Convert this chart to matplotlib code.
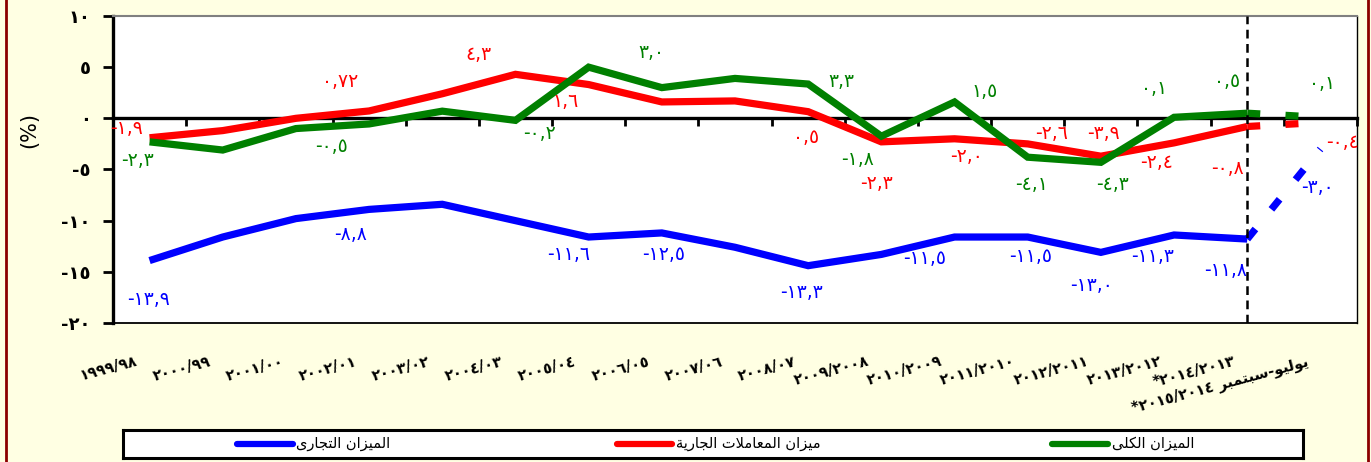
import matplotlib
matplotlib.use("Agg")
import matplotlib.pyplot as plt
from matplotlib import transforms
from matplotlib.lines import Line2D

# --- data (values in %) ---
years = ["١٩٩٩/٩٨", "٢٠٠٠/٩٩", "٢٠٠١/٠٠", "٢٠٠٢/٠١", "٢٠٠٣/٠٢", "٢٠٠٤/٠٣",
         "٢٠٠٥/٠٤", "٢٠٠٦/٠٥", "٢٠٠٧/٠٦", "٢٠٠٨/٠٧", "٢٠٠٩/٢٠٠٨", "٢٠١٠/٢٠٠٩",
         "٢٠١١/٢٠١٠", "٢٠١٢/٢٠١١", "٢٠١٣/٢٠١٢", "*٢٠١٤/٢٠١٣", "يوليو-سبتمبر *٢٠١٥/٢٠١٤"]

trade = [-13.9, -11.6, -9.8, -8.9, -8.4, -10.0, -11.6, -11.2, -12.6, -14.4,
         -13.3, -11.6, -11.6, -13.1, -11.4, -11.8, -3.0]
current = [-1.9, -1.2, 0.0, 0.72, 2.4, 4.3, 3.3, 1.6, 1.7, 0.65,
           -2.3, -2.0, -2.5, -3.7, -2.4, -0.8, -0.4]
overall = [-2.3, -3.1, -1.0, -0.55, 0.7, -0.2, 5.0, 3.0, 3.9, 3.35,
           -1.75, 1.6, -3.8, -4.3, 0.1, 0.5, 0.1]

# data labels as printed on the chart
trade_lbl = [-13.9, -8.8, -11.6, -12.5, -13.3, -11.5, -11.5, -13.0, -11.3, -11.8, -3.0]
current_lbl = [-1.9, 0.72, 4.3, 1.6, 0.5, -2.3, -2.0, -2.6, -3.9, -2.4, -0.8, -0.4]
overall_lbl = [-2.3, -0.5, -0.2, 3.0, 3.3, -1.8, 1.5, -4.1, -4.3, 0.1, 0.5, 0.1]

names = ["الميزان التجارى", "ميزان المعاملات الجارية", "الميزان الكلى"]
colors = ["#0000FF", "#FF0000", "#008000"]

# label placement (x in category units, y in %)
trade_lbl_pos = [(-0.02, -17.7), (2.75, -11.4), (5.72, -13.3), (7.03, -13.3), (8.91, -17.0),
                 (10.59, -13.7), (12.04, -13.5), (12.87, -16.3), (13.7, -13.5), (14.7, -14.9),
                 (15.96, -6.75)]
current_lbl_pos = [(-0.31, -0.95), (2.6, 3.57), (4.5, 6.2), (5.69, 1.6), (8.97, -1.84),
                   (9.94, -6.36), (11.17, -3.7), (12.33, -1.5), (13.04, -1.5), (13.76, -4.35),
                   (14.73, -4.9), (16.3, -2.4)]
overall_lbl_pos = [(-0.17, -4.1), (2.48, -2.8), (5.33, -1.5), (6.86, 6.4), (9.46, 3.56),
                   (9.68, -4.0), (11.41, 2.6), (12.05, -6.45), (13.16, -6.45), (13.73, 2.9),
                   (14.73, 3.55), (16.02, 3.37)]

AR_DIGITS = str.maketrans("0123456789.", "٠١٢٣٤٥٦٧٨٩,")

# minimal arabic shaping (matplotlib does no shaping / bidi)
FORMS = {
    "ا": (0xFE8D, 0xFE8E, None, None), "ب": (0xFE8F, 0xFE90, 0xFE91, 0xFE92),
    "ت": (0xFE95, 0xFE96, 0xFE97, 0xFE98), "ة": (0xFE93, 0xFE94, None, None),
    "ج": (0xFE9D, 0xFE9E, 0xFE9F, 0xFEA0), "ر": (0xFEAD, 0xFEAE, None, None),
    "ز": (0xFEAF, 0xFEB0, None, None), "س": (0xFEB1, 0xFEB2, 0xFEB3, 0xFEB4),
    "ع": (0xFEC9, 0xFECA, 0xFECB, 0xFECC), "ك": (0xFED9, 0xFEDA, 0xFEDB, 0xFEDC),
    "ل": (0xFEDD, 0xFEDE, 0xFEDF, 0xFEE0), "م": (0xFEE1, 0xFEE2, 0xFEE3, 0xFEE4),
    "ن": (0xFEE5, 0xFEE6, 0xFEE7, 0xFEE8), "و": (0xFEED, 0xFEEE, None, None),
    "ى": (0xFEEF, 0xFEF0, 0xFBE8, 0xFBE9), "ي": (0xFEF1, 0xFEF2, 0xFEF3, 0xFEF4),
}


def shape(text):
    out = []
    i = 0
    while i < len(text):
        c = text[i]
        prev = text[i - 1] if i > 0 else None
        nxt = text[i + 1] if i + 1 < len(text) else None
        joins_prev = prev in FORMS and FORMS[prev][2] is not None
        if c not in FORMS:
            out.append(c)
            i += 1
            continue
        if c == "ل" and nxt == "ا":
            out.append(chr(0xFEFC if joins_prev else 0xFEFB))
            i += 2
            continue
        joins_next = nxt in FORMS and FORMS[c][2] is not None
        iso, fin, ini, med = FORMS[c]
        if joins_prev and joins_next:
            out.append(chr(med))
        elif joins_prev:
            out.append(chr(fin))
        elif joins_next:
            out.append(chr(ini))
        else:
            out.append(chr(iso))
        i += 1
    return "".join(out)[::-1]


def ar_label(text):
    # words with letters get shaped; word order flipped for right-to-left
    words = text.split(" ")
    if len(words) == 1 and not any(ch in FORMS for ch in text):
        return text
    return " ".join(shape(w) if any(ch in FORMS for ch in w) else w for w in words[::-1])


def ar_num(v):
    s = f"{abs(v):.2f}"
    if s.endswith("0"):
        s = s[:-1]
    return ("-" if v < 0 else "") + s.translate(AR_DIGITS)


plt.rcParams["font.family"] = ["DejaVu Sans"]
bg = "#FFFFE3"
fig = plt.figure(figsize=(13.71, 4.62), dpi=100, facecolor=bg)
ax = fig.add_axes([0.0824, 0.3009, 0.9074, 0.6645])
ax.set_facecolor("white")

x = list(range(len(years)))
n_solid = len(years) - 1
for vals, col in zip([trade, current, overall], colors):
    ax.plot(x[:n_solid], vals[:n_solid], color=col, lw=5.2,
            solid_capstyle="butt", solid_joinstyle="miter", zorder=3)
    ax.plot(x[n_solid - 1:], vals[n_solid - 1:], color=col, lw=5.2,
            linestyle=(0, (1.8, 3.5)), dash_capstyle="butt", zorder=3)

for lbls, pos, col in [(trade_lbl, trade_lbl_pos, colors[0]),
                       (current_lbl, current_lbl_pos, colors[1]),
                       (overall_lbl, overall_lbl_pos, colors[2])]:
    for v, (px, py) in zip(lbls, pos):
        ax.text(px, py, ar_num(v), color=col, fontsize=13.5, ha="center", va="center",
                zorder=5, clip_on=False)

# separator between annual data and the latest quarter
ax.axvline(n_solid - 1, color="black", lw=1.8, linestyle=(0, (3.5, 2.2)), zorder=6)

ax.set_xlim(-0.5, len(years) - 0.5)
ax.set_ylim(-20, 10)
yt = [10, 5, 0, -5, -10, -15, -20]
ax.set_yticks(yt)
ax.set_yticklabels([ar_num(v).replace(",٠", "") if v else "٠" for v in yt],
                   fontsize=13, fontweight="bold")
ax.tick_params(axis="y", direction="out", length=7, width=2, pad=9)

# category axis sits on the zero line, ticks between categories
ax.spines["bottom"].set_position(("data", 0))
ax.spines["bottom"].set_linewidth(2.4)
ax.set_xticks([i - 0.5 for i in range(len(years) + 1)])
ax.tick_params(axis="x", direction="out", length=6, width=2, labelbottom=False)
ax.spines["left"].set_linewidth(2.4)
ax.spines["top"].set_color("#808080")
ax.spines["top"].set_linewidth(1.5)
ax.spines["right"].set_linewidth(1.0)
ax.plot([0, 1], [0, 0], transform=ax.transAxes, color="black", lw=1.3, clip_on=False)

trans = transforms.blended_transform_factory(ax.transData, ax.transAxes)
for i, lab in enumerate(years):
    ax.text(i - 0.2, -0.1, ar_label(lab), transform=trans, rotation=15,
            rotation_mode="anchor", ha="right", va="top", fontsize=10.5,
            fontweight="bold")

ax.set_ylabel("(%)", fontsize=15)
ax.yaxis.set_label_coords(-0.059, 0.63)

# legend box
lax = fig.add_axes([0.0897, 0.0087, 0.8607, 0.0606])
lax.set_xlim(0, 1)
lax.set_ylim(0, 1)
lax.set_xticks([])
lax.set_yticks([])
lax.set_facecolor("white")
for s in lax.spines.values():
    s.set_linewidth(2.2)
for (x0, x1), name, col in zip([(0.0966, 0.144), (0.4186, 0.4653), (0.787, 0.835)], names, colors):
    lax.plot([x0, x1], [0.5, 0.5], color=col, lw=4.5, solid_capstyle="round")
    lax.text(x1 + 0.003, 0.5, shape(name), fontsize=10.5, ha="left", va="center")

# outer frame
for fx in (0.0044, 0.9975):
    fig.add_artist(Line2D([fx, fx], [0, 1], transform=fig.transFigure, color="#8B0000", lw=2))

fig.savefig("out.png", dpi=100, facecolor=bg)
